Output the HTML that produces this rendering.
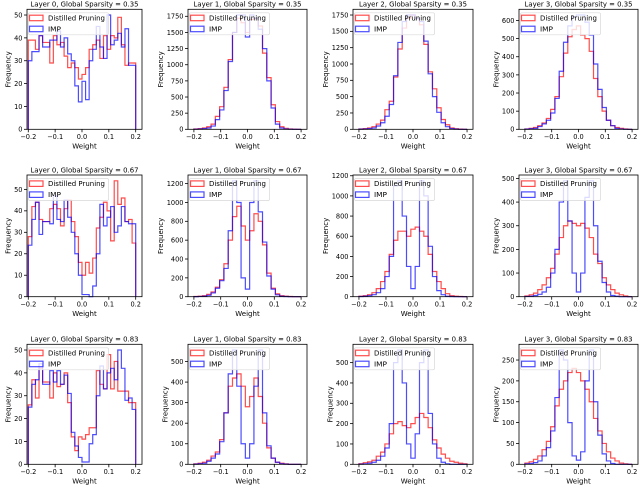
<!DOCTYPE html>
<html><head><meta charset="utf-8">
<style>
html,body{margin:0;padding:0;background:#fff;}
svg{display:block;font-family:"DejaVu Sans","Liberation Sans",sans-serif;}
</style></head>
<body>
<svg id="fig" width="640" height="485" viewBox="0 0 640 485" xmlns="http://www.w3.org/2000/svg"></svg>
<script>
// ---- data (counts per bin) ----
const layers = [0, 1, 2, 3];
const sparsities = ["0.35", "0.67", "0.83"];
const xTicks = [-0.2, -0.1, 0.0, 0.1, 0.2];
const xTickLabels = ["\u22120.2", "\u22120.1", "0.0", "0.1", "0.2"];
const binStart = -0.2;
const binEnd = 0.2;

const red_r0c0 = [39,39,35,41,38,38,29,41,37,38,32,27,29,27,22,24,27,35,37,39,31,41,35,41,40,49,37,28,29,29];
const blue_r0c0 = [30,34,34,41,36,36,39,39,43,36,40,33,30,19,12,21,13,30,35,45,36,31,50,37,39,42,36,44,28,28];
const red_r0c1 = [5,10,20,40,80,200,350,650,1080,1500,1720,1650,1500,1700,1720,1600,1180,800,380,120,40,15,5,2,0];
const blue_r0c1 = [2,5,10,20,50,150,300,600,1050,1500,1770,1770,1430,1770,1720,1550,1250,750,330,80,20,5,2,0,0];
const red_r0c2 = [5,10,20,40,80,140,300,430,800,1230,1550,1700,1750,1700,1600,1300,880,620,330,150,70,20,8,3,0];
const blue_r0c2 = [3,5,10,20,50,100,200,380,820,1330,1650,1750,1750,1700,1650,1350,850,500,260,100,40,10,3,0,0];
const red_r0c3 = [2,5,10,20,35,60,110,180,290,420,510,550,570,520,500,430,280,180,100,50,20,10,5,2,0];
const blue_r0c3 = [1,3,5,15,30,50,90,170,320,480,570,620,630,630,590,520,360,220,120,50,20,5,2,0,0];

const red_r1c0 = [28,42,44,36,35,35,41,43,41,33,41,45,35,28,16,10,16,11,18,32,37,44,40,26,54,43,46,35,36,25];
const blue_r1c0 = [24,36,44,29,35,35,34,47,36,35,45,37,30,20,10,1,1,0,5,20,43,33,37,42,30,33,42,35,34,34];
const red_r1c1 = [2,5,10,25,50,100,180,350,600,850,960,750,600,700,880,800,550,250,90,30,10,5,2,0,0];
const blue_r1c1 = [1,3,5,15,40,90,170,300,700,1230,1000,200,80,1000,1230,900,580,220,80,20,5,2,0,0,0];
const red_r1c2 = [5,10,20,40,80,150,250,420,560,650,650,600,670,690,650,600,420,250,150,80,30,10,5,2,0];
const blue_r1c2 = [2,5,10,20,40,80,200,400,1100,1150,800,300,80,300,1150,1000,500,200,60,20,5,2,0,0,0];
const red_r1c3 = [3,8,15,30,50,80,120,180,250,300,320,310,300,310,290,250,180,140,80,50,30,15,8,3,0];
const blue_r1c3 = [1,2,5,10,20,40,100,200,400,490,320,100,20,100,420,490,300,150,60,20,5,2,0,0,0];

const red_r2c0 = [26,37,29,42,36,36,29,40,34,35,40,27,12,6,12,11,13,16,16,41,35,33,48,33,45,32,32,32,27,27];
const blue_r2c0 = [25,35,37,44,35,35,41,36,41,35,39,31,14,8,3,1,1,9,13,30,43,33,40,42,37,50,42,28,29,24];
const red_r2c1 = [2,5,10,20,40,60,120,250,380,420,440,380,280,330,420,330,200,80,30,10,5,2,0,0,0];
const blue_r2c1 = [1,3,5,15,30,50,110,250,440,556,380,100,30,100,380,556,250,90,30,10,3,1,0,0,0];
const red_r2c2 = [3,8,12,20,40,60,100,150,200,210,190,180,200,230,250,230,180,120,80,50,30,15,10,5,2];
const blue_r2c2 = [1,2,5,10,20,40,80,200,500,562,400,100,30,150,500,562,250,100,30,10,2,0,0,0,0];
const red_r2c3 = [3,6,12,20,35,55,90,140,180,200,220,230,220,200,180,150,110,80,50,30,15,8,3,1,0];
const blue_r2c3 = [1,2,4,8,20,40,80,160,274,250,100,20,10,30,200,274,150,70,25,8,2,0,0,0,0];

const yTickSteps = [[10,250,250,100],[10,200,200,100],[10,100,100,50]];

const redSeries = [[red_r0c0,red_r0c1,red_r0c2,red_r0c3],[red_r1c0,red_r1c1,red_r1c2,red_r1c3],[red_r2c0,red_r2c1,red_r2c2,red_r2c3]];
const blueSeries = [[blue_r0c0,blue_r0c1,blue_r0c2,blue_r0c3],[blue_r1c0,blue_r1c1,blue_r1c2,blue_r1c3],[blue_r2c0,blue_r2c1,blue_r2c2,blue_r2c3]];

// ---- layout ----
const colLeft = [27, 188, 353, 519];
const colWidth = [115, 119, 120, 119];
const rowTop = [9.3, 175, 344.3];
const rowBottom = [129.3, 296.7, 464.3];
const colXMin = [-0.2048, -0.222, -0.222, -0.222];
const colXMax = [0.2235, 0.222, 0.222, 0.222];

const NS = "http://www.w3.org/2000/svg";
const fig = document.getElementById("fig");
function mk(tag, attrs, parent) {
  const e = document.createElementNS(NS, tag);
  for (const k in attrs) e.setAttribute(k, attrs[k]);
  (parent || fig).appendChild(e);
  return e;
}
function fmt(v) { return String(v); }

for (let r = 0; r < 3; r++) {
  for (let c = 0; c < 4; c++) {
    const L = colLeft[c], W = colWidth[c], T = rowTop[r], B = rowBottom[r];
    const red = redSeries[r][c], blue = blueSeries[r][c];
    const nb = red.length;
    const bw = (binEnd - binStart) / nb;
    const ymax = 1.05 * Math.max(Math.max(...red), Math.max(...blue));
    const xs = v => L + (v - colXMin[c]) / (colXMax[c] - colXMin[c]) * W;
    const ys = v => B - v / ymax * (B - T);

    const g = mk("g", {});
    
    

    [[red, "rgba(255,0,0,0.7)", "distilled-pruning"], [blue, "rgba(0,0,255,0.7)", "imp"]].forEach(([arr, col, nm]) => {
      let d = "M" + xs(binStart).toFixed(2) + "," + ys(0).toFixed(2);
      for (let i = 0; i < arr.length; i++) {
        const x0 = xs(binStart + i * bw), x1 = xs(binStart + (i + 1) * bw), y = ys(arr[i]);
        d += " L" + x0.toFixed(2) + "," + y.toFixed(2) + " L" + x1.toFixed(2) + "," + y.toFixed(2);
      }
      d += " L" + xs(binEnd).toFixed(2) + "," + ys(0).toFixed(2);
      const p = mk("path", { d: d, fill: "none", stroke: col, "stroke-width": 1.2, "stroke-linejoin": "miter" }, g);
      
      
    });

    const fr = mk("rect", { x: L, y: T, width: W, height: B - T, fill: "none", stroke: "#000", "stroke-width": 0.8 }, g);
    
    

    xTicks.forEach((t, i) => {
      const x = xs(t);
      mk("line", { x1: x, y1: B, x2: x, y2: B + 3, stroke: "#000", "stroke-width": 0.8 }, g);
      const tl = mk("text", { x: x, y: B + 9.8, "font-size": 6.6, "text-anchor": "middle", fill: "#000" }, g);
      tl.textContent = xTickLabels[i];
      
      
    });
    const xl = mk("text", { x: L + W / 2, y: B + 19.3, "font-size": 7, "text-anchor": "middle", fill: "#000" }, g);
    xl.textContent = "Weight";
    
    

    const step = yTickSteps[r][c];
    let maxLabelLen = 0;
    for (let v = 0; v <= ymax; v += step) {
      const y = ys(v);
      mk("line", { x1: L, y1: y, x2: L - 3, y2: y, stroke: "#000", "stroke-width": 0.8 }, g);
      const tl = mk("text", { x: L - 4.5, y: y + 2.4, "font-size": 6.6, "text-anchor": "end", fill: "#000" }, g);
      tl.textContent = fmt(v);
      
      
      maxLabelLen = Math.max(maxLabelLen, fmt(v).length);
    }
    const yx = L - 8 - maxLabelLen * 4.2;
    const yl = mk("text", { x: yx, y: (T + B) / 2, "font-size": 7, "text-anchor": "middle", fill: "#000", transform: "rotate(-90 " + yx + " " + (T + B) / 2 + ")" }, g);
    yl.textContent = "Frequency";
    
    

    const tt = mk("text", { x: L + W / 2, y: T - 2.6, "font-size": 7, "text-anchor": "middle", fill: "#000", textLength: 108, lengthAdjust: "spacingAndGlyphs" }, g);
    tt.textContent = "Layer " + layers[c] + ", Global Sparsity = " + sparsities[r];
    
    

    const lg = mk("g", {}, g);
    
    
    mk("rect", { x: L + 1.5, y: T + 3.5, width: 80, height: 22, rx: 1.5, fill: "rgba(255,255,255,0.8)", stroke: "#d8d8d8", "stroke-width": 0.7 }, lg);
    [["Distilled Pruning", "rgba(255,0,0,0.7)", 0, 57], ["IMP", "rgba(0,0,255,0.7)", 1, 13]].forEach(([lab, col, k, tlen]) => {
      const yy = T + 5.9 + k * 11;
      const e = mk("g", {}, lg);
      
      
      mk("rect", { x: L + 2.5, y: yy, width: 13.5, height: 5.5, fill: "none", stroke: col, "stroke-width": 1.2 }, e);
      const t = mk("text", { x: L + 21, y: yy + 5.3, "font-size": 6.8, fill: "#000", textLength: tlen, lengthAdjust: "spacingAndGlyphs" }, e);
      t.textContent = lab;
    });
  }
}
</script>
</body></html>
